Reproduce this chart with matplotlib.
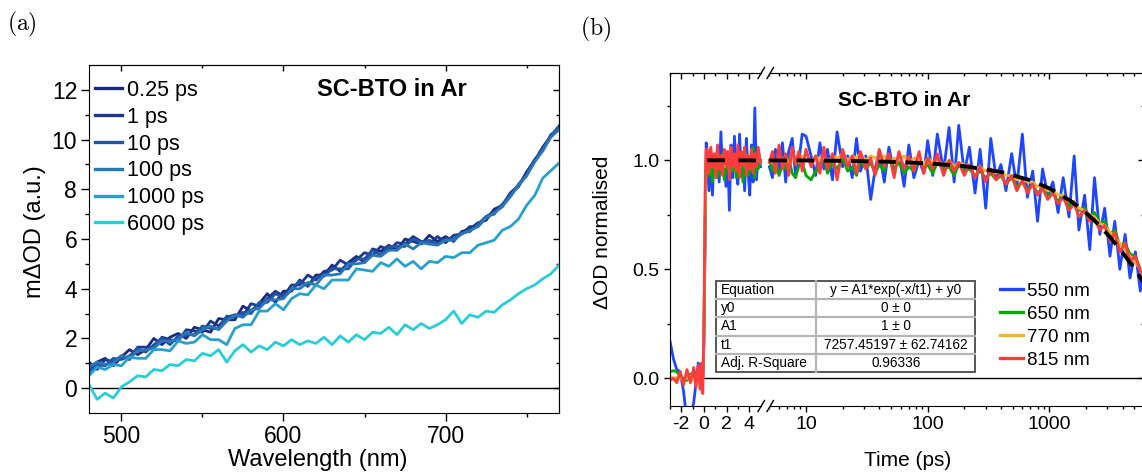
import matplotlib

matplotlib.use("Agg")

import matplotlib.pyplot as plt
import numpy as np
from matplotlib.lines import Line2D
from matplotlib.patches import Rectangle
from matplotlib.ticker import FormatStrFormatter, LogLocator, NullFormatter

plt.rcParams["font.family"] = ["Liberation Sans", "DejaVu Sans"]
plt.rcParams["mathtext.fontset"] = "cm"
plt.rcParams["axes.unicode_minus"] = False

# ---- panel (a): transient spectra ----
wavelength = [480, 485, 490, 495, 500, 505, 510, 515, 520, 525, 530, 535, 540, 545, 550,
              555, 560, 565, 570, 575, 580, 585, 590, 595, 600, 605, 610, 615, 620, 625,
              630, 635, 640, 645, 650, 655, 660, 665, 670, 675, 680, 685, 690, 695, 700,
              705, 710, 715, 720, 725, 730, 735, 740, 745, 750, 755, 760, 765, 770]

delay_labels = ["0.25 ps", "1 ps", "10 ps", "100 ps", "1000 ps", "6000 ps"]
delay_colors = ["#1a2a80", "#1e3891", "#2355a5", "#2878b9", "#28a0cd", "#28cdd7"]

od_025ps = [0.75, 1.05, 1.20, 0.90, 1.25, 1.55, 1.35, 1.55, 2.00, 1.75, 2.05, 2.20, 2.00, 2.45, 2.35,
            2.25, 2.80, 2.75, 2.75, 3.30, 3.10, 3.40, 3.80, 3.45, 3.90, 3.90, 4.35, 4.10, 4.55, 4.55,
            4.95, 4.70, 5.05, 5.30, 5.05, 5.60, 5.50, 5.75, 5.55, 6.00, 5.90, 5.80, 6.15, 5.90, 6.10,
            5.90, 6.30, 6.40, 6.65, 6.75, 7.20, 7.35, 7.85, 8.10, 8.70, 9.15, 9.70, 10.15, 10.50]
od_1ps = [1.05, 0.75, 1.15, 1.05, 1.30, 1.15, 1.65, 1.65, 1.60, 2.05, 1.95, 1.90, 2.35, 2.30, 2.25,
          2.70, 2.50, 2.85, 2.95, 2.90, 3.40, 3.30, 3.60, 3.90, 3.70, 4.15, 4.15, 4.55, 4.35, 4.70,
          4.75, 5.15, 4.95, 5.15, 5.45, 5.35, 5.70, 5.55, 5.85, 5.80, 6.10, 5.90, 5.80, 6.10, 5.85,
          6.15, 6.20, 6.50, 6.50, 6.90, 7.10, 7.30, 7.85, 8.15, 8.65, 9.20, 9.55, 10.20, 10.40]
od_10ps = [0.65, 0.95, 0.90, 1.20, 1.15, 1.30, 1.60, 1.45, 1.75, 2.00, 1.75, 2.10, 2.15, 2.15, 2.50,
           2.40, 2.40, 2.90, 2.85, 3.05, 3.00, 3.45, 3.45, 3.80, 3.65, 3.95, 4.30, 4.10, 4.45, 4.50,
           4.80, 4.80, 4.80, 5.20, 5.20, 5.55, 5.35, 5.70, 5.70, 5.70, 6.00, 5.85, 5.95, 5.80, 6.00,
           6.00, 6.25, 6.30, 6.60, 6.90, 7.00, 7.40, 7.75, 8.20, 8.55, 9.15, 9.60, 10.15, 10.55]
od_100ps = [0.85, 1.05, 0.95, 1.00, 1.30, 1.20, 1.50, 1.55, 1.60, 1.90, 1.90, 1.95, 2.25, 2.10, 2.35,
            2.50, 2.35, 2.70, 2.95, 2.85, 3.15, 3.20, 3.55, 3.55, 3.60, 4.00, 4.00, 4.25, 4.15, 4.55,
            4.55, 4.60, 5.00, 5.00, 5.05, 5.35, 5.30, 5.55, 5.55, 5.80, 5.60, 5.85, 5.80, 5.75, 5.95,
            5.95, 6.20, 6.35, 6.50, 6.85, 7.05, 7.30, 7.70, 8.15, 8.55, 9.10, 9.55, 10.10, 10.40]
od_1000ps = [0.50, 0.85, 0.75, 0.95, 0.90, 1.25, 1.20, 1.20, 1.55, 1.55, 1.50, 1.90, 1.80, 1.85, 2.15,
             1.95, 1.95, 1.75, 2.40, 2.55, 2.55, 3.10, 3.10, 3.40, 3.15, 3.60, 3.80, 3.75, 4.15, 4.00,
             4.35, 4.35, 4.35, 4.80, 4.75, 4.70, 5.05, 4.90, 5.20, 4.90, 5.10, 4.80, 5.10, 5.05, 5.30,
             5.25, 5.45, 5.45, 5.75, 5.85, 5.95, 6.35, 6.50, 6.80, 7.35, 7.75, 8.45, 8.75, 9.05]
od_6000ps = [0.15, -0.45, -0.20, -0.40, 0.05, 0.25, 0.50, 0.45, 0.75, 0.70, 0.95, 0.90, 1.15, 1.10, 1.40,
             1.30, 1.55, 1.05, 1.50, 1.75, 1.45, 1.70, 1.55, 1.85, 1.70, 1.95, 1.75, 1.90, 1.80, 2.05,
             1.75, 2.10, 1.85, 2.15, 1.95, 2.25, 2.20, 2.45, 2.15, 2.55, 2.35, 2.60, 2.40, 2.55, 2.75,
             3.10, 2.60, 2.95, 2.85, 3.10, 3.05, 3.35, 3.55, 3.80, 4.00, 4.15, 4.40, 4.60, 4.95]

# ---- panel (b): normalised kinetics ----
time_ps = [-3.0, -2.7, -2.4, -2.1, -1.8, -1.5, -1.2, -0.9, -0.7, -0.5, -0.35, -0.2, -0.1, 0.0, 0.1, 0.2,
           0.3, 0.45, 0.6, 0.75, 0.9, 1.05, 1.2, 1.35, 1.5, 1.65, 1.8, 1.95, 2.1, 2.25, 2.4, 2.55,
           2.7, 2.85, 3.0, 3.15, 3.3, 3.45, 3.6, 3.75, 3.9, 4.05, 4.2, 4.35, 4.5, 4.65, 4.8, 5.0,
           5.3, 5.6, 6.0, 6.4, 6.8, 7.2, 7.7, 8.2, 8.7, 9.3,
           10, 11, 12, 13, 14, 15, 16.5, 18, 20, 22,
           24, 26, 28, 31, 34, 37, 40, 44, 48, 53,
           58, 64, 70, 77, 85, 93, 100, 110, 120, 135,
           150, 165, 180, 200, 220, 245, 270, 300, 330, 365,
           400, 440, 490, 540, 600, 660, 730, 800, 880, 970,
           1070, 1180, 1300, 1450, 1600, 1750, 1950, 2150, 2350, 2600,
           2850, 3150, 3450, 3800, 4200, 4600, 5100, 5600, 6000]

probe_labels = ["550 nm", "650 nm", "770 nm", "815 nm"]
probe_colors = ["#1e46ff", "#00aa00", "#f0b432", "#ff3c3c"]

kin_550 = [0.17, 0.09, 0.04, 0.03, -0.06, -0.20, -0.18, -0.11, -0.02, 0.07, 0.05, 0.02, 0.00, 0.15, 0.60, 1.08,
           1.02, 0.86, 1.05, 0.84, 1.02, 0.95, 1.06, 0.90, 1.13, 0.94, 0.99, 0.88, 1.04, 0.77, 1.07, 0.92,
           1.11, 0.95, 0.89, 1.12, 0.93, 1.02, 0.86, 1.10, 0.95, 0.84, 1.07, 0.90, 1.24, 0.91, 1.04, 0.97,
           0.92, 1.05, 0.95, 1.08, 0.90, 1.04, 1.10, 0.93, 0.99, 1.12,
           1.11, 1.02, 0.93, 1.08, 0.96, 1.05, 0.91, 1.13, 0.97, 1.02,
           0.92, 1.10, 0.95, 1.02, 0.82, 0.96, 1.04, 0.90, 1.06, 0.94,
           1.03, 0.88, 1.07, 0.92, 1.00, 0.94, 1.09, 0.93, 1.12, 0.95,
           1.15, 0.90, 1.16, 0.94, 1.06, 0.85, 1.05, 0.78, 1.10, 0.92,
           0.98, 0.86, 1.03, 0.88, 1.12, 0.83, 0.95, 0.72, 0.96, 0.84,
           0.90, 0.76, 0.92, 0.74, 1.02, 0.68, 0.84, 0.59, 0.92, 0.66,
           0.78, 0.56, 0.72, 0.50, 0.66, 0.46, 0.58, 0.40, 0.50]
kin_650 = [0.03, 0.035, 0.03, 0.01, 0.00, -0.01, 0.02, 0.00, 0.03, -0.01, 0.02, 0.00, 0.01, 0.20, 0.70, 1.00,
           0.99, 0.93, 1.02, 0.90, 0.97, 1.01, 0.92, 0.98, 0.94, 1.03, 0.91, 0.97, 1.00, 0.93, 0.99, 0.95,
           1.02, 0.92, 0.98, 0.94, 1.01, 0.90, 0.97, 1.03, 0.93, 0.99, 0.95, 1.06, 0.92, 0.98, 0.96, 1.00,
           0.95, 1.00, 0.93, 0.98, 0.96, 1.01, 0.94, 0.92, 0.97, 0.99,
           0.93, 0.91, 0.95, 0.98, 1.02, 0.94, 0.99, 0.96, 1.01, 0.95,
           0.97, 0.93, 1.00, 0.96, 0.99, 0.94, 0.98, 0.95, 1.02, 0.96,
           0.99, 0.94, 0.97, 0.95, 1.00, 0.96, 0.98, 0.94, 0.99, 0.96,
           0.97, 0.93, 0.98, 0.95, 0.96, 0.93, 0.95, 0.92, 0.94, 0.91,
           0.93, 0.89, 0.92, 0.88, 0.90, 0.86, 0.89, 0.85, 0.87, 0.84,
           0.85, 0.81, 0.84, 0.79, 0.81, 0.77, 0.78, 0.74, 0.76, 0.71,
           0.72, 0.66, 0.68, 0.61, 0.62, 0.57, 0.56, 0.50, 0.46]
kin_770 = [0.01, 0.00, 0.005, 0.00, -0.01, 0.00, 0.01, -0.01, 0.00, 0.01, 0.00, -0.01, 0.00, 0.20, 0.75, 1.00,
           1.02, 0.98, 1.01, 0.97, 1.00, 1.03, 0.98, 1.01, 0.99, 1.02, 0.97, 1.00, 1.01, 0.98, 1.02, 0.99,
           1.00, 0.97, 1.01, 0.99, 1.03, 0.98, 1.00, 1.02, 0.98, 1.01, 0.99, 1.02, 0.98, 1.00, 1.01, 0.99,
           1.00, 0.98, 1.01, 0.99, 1.02, 0.98, 1.00, 1.01, 0.99, 1.02,
           1.00, 0.99, 1.02, 1.00, 1.01, 0.99, 1.02, 1.01, 1.03, 1.00,
           1.02, 1.01, 1.03, 1.00, 1.02, 1.01, 1.00, 1.02, 0.99, 1.01,
           1.00, 1.02, 0.99, 1.01, 1.00, 0.98, 1.01, 0.99, 1.00, 0.98,
           1.00, 0.97, 0.99, 0.98, 0.97, 0.96, 0.97, 0.95, 0.96, 0.94,
           0.95, 0.93, 0.93, 0.91, 0.92, 0.90, 0.90, 0.88, 0.88, 0.86,
           0.86, 0.84, 0.84, 0.81, 0.81, 0.78, 0.77, 0.75, 0.74, 0.71,
           0.70, 0.67, 0.65, 0.62, 0.59, 0.56, 0.53, 0.50, 0.47]
kin_815 = [-0.01, 0.00, -0.02, 0.03, -0.03, 0.04, -0.02, 0.05, -0.04, 0.06, -0.05, 0.07, -0.07, 0.25, 0.85, 1.05,
           1.05, 0.94, 1.06, 0.97, 1.03, 0.92, 1.07, 0.96, 1.02, 0.93, 1.05, 0.98, 1.04, 0.91, 1.06, 0.97,
           1.03, 0.95, 1.07, 0.92, 1.04, 0.98, 1.06, 0.93, 1.02, 0.96, 1.05, 0.94, 1.03, 0.97, 1.06, 0.99,
           1.04, 0.94, 1.07, 0.96, 1.03, 0.93, 1.06, 0.98, 1.04, 0.95,
           1.05, 0.97, 1.02, 0.94, 1.06, 0.96, 1.03, 0.91, 1.05, 0.97,
           1.02, 0.94, 1.04, 0.96, 1.01, 0.93, 1.05, 0.97, 1.03, 0.92,
           1.04, 0.96, 1.02, 0.95, 1.04, 0.94, 1.01, 0.96, 1.03, 0.93,
           1.00, 0.95, 0.99, 0.93, 0.98, 0.92, 0.97, 0.90, 0.96, 0.91,
           0.94, 0.89, 0.93, 0.86, 0.91, 0.85, 0.89, 0.84, 0.87, 0.82,
           0.85, 0.80, 0.83, 0.77, 0.80, 0.74, 0.77, 0.72, 0.73, 0.68,
           0.70, 0.63, 0.67, 0.58, 0.62, 0.54, 0.56, 0.49, 0.47]

# mono-exponential fit, y = A1*exp(-x/t1) + y0, sampled values
fit_t = [0.3, 5.0, 10, 20, 50, 100, 200, 400, 700, 1000, 1500, 2000, 2500, 3000, 3500, 4000,
         4500, 5000, 5500, 6000]
fit_y = [1.000, 0.999, 0.999, 0.997, 0.993, 0.986, 0.973, 0.946, 0.908, 0.871, 0.813, 0.759,
         0.709, 0.661, 0.617, 0.576, 0.538, 0.502, 0.469, 0.437]

table_rows = ["Equation", "y0", "A1", "t1", "Adj. R-Square"]
table_vals = ["y = A1*exp(-x/t1) + y0", "0 \u00b1 0", "1 \u00b1 0",
              "7257.45197 \u00b1 62.74162", "0.96336"]

W, H = 1142, 474


def px_box(left, top, right, bottom):
    return [left / W, 1 - bottom / H, (right - left) / W, (bottom - top) / H]


def inner_ticks(ax, size, xmaj=None, xmin=None, ymaj=None, ymin=None, logx=False):
    top = ax.secondary_xaxis("top")
    if logx:
        top.xaxis.set_major_locator(LogLocator(base=10))
        top.xaxis.set_minor_locator(LogLocator(base=10, subs=np.arange(2, 10)))
    else:
        top.set_xticks(xmaj)
        top.set_xticks(xmin, minor=True)
    top.tick_params(which="both", direction="in", labeltop=False, width=1.0)
    top.tick_params(which="major", length=size)
    top.tick_params(which="minor", length=size * 0.55)
    top.xaxis.set_minor_formatter(NullFormatter())
    if ymaj is not None:
        right = ax.secondary_yaxis("right")
        right.set_yticks(ymaj)
        right.set_yticks(ymin, minor=True)
        right.tick_params(which="both", direction="in", labelright=False, width=1.0)
        right.tick_params(which="major", length=size)
        right.tick_params(which="minor", length=size * 0.55)


fig = plt.figure(figsize=(W / 100, H / 100), dpi=100, facecolor="white")

# ---------------- (a) ----------------
ax_a = fig.add_axes(px_box(89, 65, 559, 413))
spectra = [od_025ps, od_1ps, od_10ps, od_100ps, od_1000ps, od_6000ps]
for label, color, vals in zip(delay_labels, delay_colors, spectra):
    ax_a.plot(wavelength, vals, color=color, lw=2.0, label=label)
ax_a.axhline(0, color="black", lw=1.0, zorder=1)
ax_a.set_xlim(480, 770)
ax_a.set_ylim(-1, 13)
ax_a.set_xticks([500, 600, 700])
ax_a.set_xticks([550, 650, 750], minor=True)
ax_a.set_yticks(range(0, 13, 2))
ax_a.set_yticks(range(1, 13, 2), minor=True)
ax_a.tick_params(which="both", direction="out", width=1.0, labelsize=16.5, pad=3)
ax_a.tick_params(which="major", length=5.5)
ax_a.tick_params(which="minor", length=3)
inner_ticks(ax_a, 4.5, [500, 600, 700], [550, 650, 750], list(range(0, 13, 2)), list(range(1, 13, 2)))
ax_a.set_xlabel("Wavelength (nm)", fontsize=17, va="center")
ax_a.xaxis.set_label_coords((318 - 89) / 470, (413 - 460) / 348)
ax_a.set_ylabel("m\u0394OD (a.u.)", fontsize=17, va="center")
ax_a.yaxis.set_label_coords((35 - 89) / 470, 0.52)
ax_a.text(0.645, 0.931, "SC-BTO in Ar", transform=ax_a.transAxes, fontsize=17,
          fontweight="bold", ha="center", va="center")
leg_a = ax_a.legend(loc="upper left", bbox_to_anchor=(0.0128, 0.957), frameon=False,
                    fontsize=15.5, handlelength=1.25, handletextpad=0.25, labelspacing=0.27,
                    borderpad=0, borderaxespad=0)
for h in leg_a.legend_handles:
    h.set_linewidth(2.4)

# ---------------- (b) ----------------
t = np.array(time_ps)
lin = t <= 5.0
logm = t >= 5.0
kinetics = [kin_550, kin_650, kin_770, kin_815]

ax_lin = fig.add_axes(px_box(670, 73, 765, 406))
ax_log = fig.add_axes(px_box(765, 73, 1144, 406))

for label, color, vals in zip(probe_labels, probe_colors, kinetics):
    v = np.array(vals)
    ax_lin.plot(t[lin], v[lin], color=color, lw=2.0)
    ax_log.plot(t[logm], v[logm], color=color, lw=2.0, label=label)

ft = np.array(fit_t)
fy = np.array(fit_y)
ax_lin.plot(ft[ft <= 5.0], fy[ft <= 5.0], color="black", lw=2.8, dashes=(4.5, 3.5), zorder=5)
ax_log.plot(ft[ft >= 5.0], fy[ft >= 5.0], color="black", lw=2.8, dashes=(4.5, 2.5), zorder=5)

for ax in (ax_lin, ax_log):
    ax.axhline(0, color="black", lw=1.0, zorder=1)
    ax.set_ylim(-0.127, 1.4)

ax_lin.set_xlim(-3, 5.4)
ax_lin.set_xticks([-2, 0, 2, 4])
ax_lin.set_xticks([-3, -1, 1, 3], minor=True)
ax_lin.set_yticks([0.0, 0.5, 1.0])
ax_lin.set_yticks([0.25, 0.75, 1.25], minor=True)
ax_lin.yaxis.set_major_formatter(FormatStrFormatter("%.1f"))
ax_lin.tick_params(which="both", direction="out", width=1.0, labelsize=14, pad=3)
ax_lin.tick_params(which="major", length=4.5)
ax_lin.tick_params(which="minor", length=2.5)
ax_lin.spines["right"].set_visible(False)
inner_ticks(ax_lin, 4.0, [-2, 0, 2, 4], [-3, -1, 1, 3])
ax_lin.set_ylabel("\u0394OD normalised", fontsize=15, va="center")
ax_lin.yaxis.set_label_coords((602 - 670) / 95, 0.523)

ax_log.set_xscale("log")
ax_log.set_xlim(4.6, 6000)
ax_log.set_xticks([10, 100, 1000], labels=["10", "100", "1000"])
ax_log.xaxis.set_minor_locator(LogLocator(base=10, subs=np.arange(2, 10)))
ax_log.xaxis.set_minor_formatter(NullFormatter())
ax_log.tick_params(which="both", direction="out", width=1.0, labelsize=14, pad=3)
ax_log.tick_params(which="major", length=4.5)
ax_log.tick_params(which="minor", length=2.5)
ax_log.tick_params(axis="y", which="both", left=False, labelleft=False)
ax_log.spines["left"].set_visible(False)
inner_ticks(ax_log, 4.0, ymaj=[0.0, 0.5, 1.0], ymin=[0.25, 0.75, 1.25], logx=True)
ax_log.set_xlabel("Time (ps)", fontsize=15, va="center")
ax_log.xaxis.set_label_coords((908 - 765) / 379, (406 - 460) / 333)
ax_log.text((904 - 765) / 379, (406 - 100.5) / 333, "SC-BTO in Ar", transform=ax_log.transAxes,
            fontsize=15, fontweight="bold", ha="center", va="center")
leg_b = ax_log.legend(loc="upper left", bbox_to_anchor=((1000 - 765) / 379, (406 - 282.5) / 333),
                      frameon=False, fontsize=13.5, handlelength=1.23, handletextpad=0.21,
                      labelspacing=0.32, borderpad=0, borderaxespad=0)
for h in leg_b.legend_handles:
    h.set_linewidth(2.4)

# axis break marks
for y_sp in (73, 406):
    fig.add_artist(Rectangle((762 / W, 1 - (y_sp + 3) / H), 8 / W, 6 / H, transform=fig.transFigure,
                             facecolor="white", edgecolor="none", zorder=20))
    for x0 in (758, 767):
        fig.add_artist(Line2D([x0 / W, (x0 + 6.5) / W], [1 - (y_sp + 5.5) / H, 1 - (y_sp - 5.5) / H],
                              transform=fig.transFigure, color="black", lw=1.0, zorder=21))

# fit results table
tab = fig.add_axes(px_box(716, 281, 975, 372))
tab.set_xlim(0, 1)
tab.set_ylim(0, 5)
tab.axis("off")
tab.add_patch(Rectangle((0, 0), 1, 5, facecolor="white", edgecolor="none", clip_on=False))
for r in range(1, 5):
    tab.plot([0, 1], [r, r], color="#b4b4b4", lw=1.6, clip_on=False)
tab.plot([0.388, 0.388], [0, 5], color="#b4b4b4", lw=1.6, clip_on=False)
tab.add_patch(Rectangle((0, 0), 1, 5, facecolor="none", edgecolor="#4a4a4a", lw=1.3, clip_on=False))
for i, (name, val) in enumerate(zip(table_rows, table_vals)):
    yc = 4.5 - i
    tab.text(0.018, yc, name, fontsize=9.8, ha="left", va="center")
    tab.text(0.694, yc, val, fontsize=9.8, ha="center", va="center")

fig.text(22 / W, 1 - 24 / H, r"$\mathrm{(a)}$", fontsize=17, ha="center", va="center")
fig.text(596 / W, 1 - 29 / H, r"$\mathrm{(b)}$", fontsize=17, ha="center", va="center")

fig.savefig("out.png", dpi=100, facecolor="white")
